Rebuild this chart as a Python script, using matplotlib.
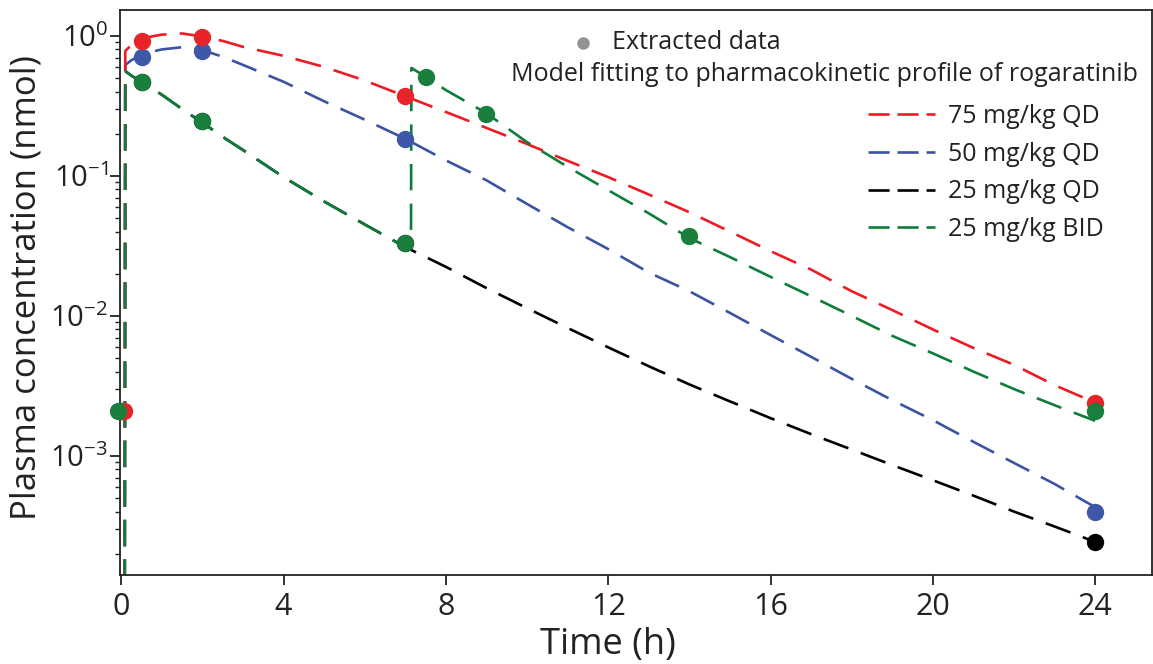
import math
import matplotlib
matplotlib.use("Agg")
import matplotlib.pyplot as plt
from matplotlib.lines import Line2D
from matplotlib.ticker import LogLocator, FixedLocator, FuncFormatter, NullFormatter

plt.rcParams['font.family'] = ['Open Sans', 'DejaVu Sans']
plt.rcParams['mathtext.fontset'] = 'custom'
plt.rcParams['mathtext.rm'] = 'Open Sans'
plt.rcParams['mathtext.it'] = 'Open Sans:italic'

# ---------------- data ----------------
series_labels = ["75 mg/kg QD", "50 mg/kg QD", "25 mg/kg QD", "25 mg/kg BID"]
colors = ["#ED1C24", "#3A53A4", "#000000", "#0E7D3C"]
marker_colors = ["#E8242A", "#3D58A8", "#000000", "#1A7F3C"]

# model curves
t_qd = [0.08, 0.1, 0.25, 0.5, 0.75, 1.0, 1.5, 2.0, 2.5, 3, 4, 5, 6, 7, 8, 9, 10, 11, 12,
        13, 14, 15, 16, 17, 18, 19, 20, 21, 22, 23, 24]
model_75 = [1e-6, 0.78, 0.86, 0.94, 0.99, 1.02, 1.04, 0.99, 0.92, 0.835, 0.72, 0.60, 0.48,
            0.37, 0.286, 0.22, 0.169, 0.128, 0.098, 0.0736, 0.055, 0.040, 0.029, 0.0214,
            0.015, 0.011, 0.0080, 0.0059, 0.00447, 0.0032, 0.0024]
model_50 = [1e-6, 0.62, 0.67, 0.73, 0.77, 0.80, 0.83, 0.79, 0.71, 0.62, 0.47, 0.341, 0.252,
            0.184, 0.129, 0.093, 0.063, 0.043, 0.030, 0.0204, 0.015, 0.0105, 0.0073, 0.0051,
            0.00355, 0.0025, 0.0018, 0.00126, 8.9e-4, 6.3e-4, 4.3e-4]
model_25 = [1e-6, 0.56, 0.52, 0.47, 0.42, 0.38, 0.30, 0.24, 0.19, 0.153, 0.098, 0.0656, 0.045,
            0.031, 0.0224, 0.0158, 0.01135, 0.0082, 0.00596, 0.00437, 0.00324, 0.00245,
            0.00186, 0.00143, 0.00111, 8.6e-4, 6.7e-4, 5.2e-4, 4.0e-4, 3.13e-4, 2.43e-4]
t_bid = [0.08, 0.1, 0.25, 0.5, 0.75, 1.0, 1.5, 2.0, 2.5, 3, 4, 5, 6, 7, 7.14, 7.15, 7.5, 8,
         9, 10, 11, 12, 13, 14, 15, 16, 17, 18, 19, 20, 21, 22, 23, 24]
model_25bid = [1e-6, 0.56, 0.52, 0.47, 0.42, 0.38, 0.30, 0.24, 0.19, 0.153, 0.098, 0.0656,
               0.045, 0.031, 0.030, 0.59, 0.51, 0.41, 0.28, 0.174, 0.116, 0.079, 0.054,
               0.036, 0.0263, 0.019, 0.0138, 0.010, 0.0072, 0.0054, 0.0040, 0.0030,
               0.0023, 0.00178]

# extracted data points
t_obs_75 = [0.07, 0.5, 2, 7, 24]
obs_75 = [2.1e-3, 0.92, 0.98, 0.37, 2.4e-3]
t_obs_50 = [0, 0.5, 2, 7, 24]
obs_50 = [2.1e-3, 0.71, 0.78, 0.184, 4.0e-4]
t_obs_25 = [0, 0.5, 2, 7, 24]
obs_25 = [2.1e-3, 0.47, 0.247, 0.033, 2.43e-4]
t_obs_bid = [-0.07, 0.5, 2, 7, 7.5, 9, 14, 24]
obs_bid = [2.1e-3, 0.47, 0.247, 0.033, 0.51, 0.277, 0.037, 2.1e-3]

x_ticks = [0, 4, 8, 12, 16, 20, 24]
y_ticks = [1e-3, 1e-2, 1e-1, 1e0]

# ---------------- figure ----------------
fig = plt.figure(figsize=(11.53, 6.64), dpi=100)
ax = fig.add_axes([120/1153, 1 - 575/664, (1152 - 120)/1153, (575 - 10)/664])
ax.set_yscale('log')
ax.set_xlim(-0.03, 25.4)
ax.set_ylim(1.41e-4, 1.53)

lw = 1.9
dash = (10, 5)
curves = [(t_qd, model_25, colors[2]), (t_qd, model_50, colors[1]),
          (t_qd, model_75, colors[0]), (t_bid, model_25bid, colors[3])]
for t, y, c in curves:
    ax.plot(t, y, color=c, lw=lw, dashes=dash, zorder=2)

ms = 12.5
ax.plot(t_obs_25, obs_25, 'o', color=marker_colors[2], ms=ms, mec='none', zorder=4, clip_on=False)
ax.plot(t_obs_50, obs_50, 'o', color=marker_colors[1], ms=ms, mec='none', zorder=4, clip_on=False)
ax.plot(t_obs_75, obs_75, 'o', color=marker_colors[0], ms=ms, mec='none', zorder=4, clip_on=False)
ax.plot(t_obs_bid, obs_bid, 'o', color=marker_colors[3], ms=ms, mec='none', zorder=5, clip_on=False)

# axes styling
txtc = '#222222'
for s in ax.spines.values():
    s.set_linewidth(1.3)
    s.set_color(txtc)
ax.xaxis.set_major_locator(FixedLocator(x_ticks))
ax.xaxis.set_major_formatter(FuncFormatter(lambda v, p: '%d' % v))
ax.yaxis.set_major_locator(FixedLocator(y_ticks))
ax.yaxis.set_minor_locator(LogLocator(base=10, subs=range(2, 10), numticks=20))
ax.yaxis.set_minor_formatter(NullFormatter())

def yfmt(v, pos):
    e = int(round(math.log10(v)))
    return r'$\mathrm{10^{%s}}$' % ('0' if e == 0 else '-%d' % (-e))

ax.yaxis.set_major_formatter(FuncFormatter(yfmt))
ax.tick_params(axis='both', which='major', direction='out', length=7.2, width=1.3,
               color=txtc, labelcolor=txtc)
ax.tick_params(axis='x', which='major', labelsize=22, pad=5)
ax.tick_params(axis='y', which='major', labelsize=21, pad=1.5)
ax.tick_params(axis='y', which='minor', direction='out', length=3.5, width=1.0, color=txtc)
ax.tick_params(axis='x', which='minor', bottom=False)

ax.set_xlabel('Time (h)', fontsize=26, color=txtc, labelpad=4)
ax.xaxis.label.set_x(0.473)
ax.set_ylabel('Plasma concentration (nmol)', fontsize=25, color=txtc)
ax.yaxis.set_label_coords(-0.074, 0.508)

# legend / annotations
fs = 18
ax.text(0.477, 0.9416, 'Extracted data', transform=ax.transAxes, fontsize=fs,
        color=txtc, va='center', ha='left')
ax.add_line(Line2D([0.4486], [0.9416], transform=ax.transAxes, marker='o', ms=9,
                   color='#939393', mec='none', ls='none', clip_on=False))
ax.text(0.9864, 0.885, 'Model fitting to pharmacokinetic profile of rogaratinib',
        transform=ax.transAxes, fontsize=fs, color=txtc, va='center', ha='right')

handles = [Line2D([], [], color=c, lw=lw) for c in colors]
leg = ax.legend(handles, series_labels, loc='upper left', bbox_to_anchor=(0.725, 0.834),
                frameon=False, fontsize=fs, handlelength=2.68, handletextpad=0.52,
                labelspacing=0.51, borderaxespad=0, borderpad=0)
for l in leg.get_lines():
    l.set_dashes((8, 3))
for txt in leg.get_texts():
    txt.set_color(txtc)

fig.savefig('out.png', dpi=100)
